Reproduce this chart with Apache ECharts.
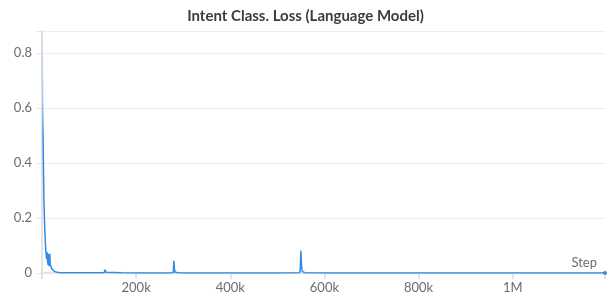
<!DOCTYPE html>
<html>
<head>
<meta charset="utf-8">
<script src="https://cdn.jsdelivr.net/npm/echarts@6/dist/echarts.min.js"></script>
<style>
    html, body { margin: 0; padding: 0; background: #fff; }
    #chart { width: 611px; height: 303px; }
</style>
</head>
<body>
<div id="chart"></div>
<script>
// 训练步数与对应的 loss
var steps = [0, 1000, 2000, 3000, 4000, 6000, 8000, 10000, 11000, 12500, 13500, 15000, 16500, 17500, 19000, 21000, 23000, 26000, 32000, 40000, 60000, 80000, 98000, 100000, 102000, 132000, 134000, 136000, 140000, 169000, 171000, 173000, 200000, 270000, 279000, 280000, 281500, 283000, 290000, 300000, 400000, 500000, 547000, 548500, 550000, 551500, 553000, 554500, 558000, 600000, 800000, 1000000, 1196000];
var lossValues = [0.88, 0.72, 0.55, 0.4, 0.27, 0.15, 0.08, 0.05, 0.075, 0.03, 0.07, 0.025, 0.07, 0.03, 0.025, 0.015, 0.01, 0.006, 0.003, 0.001, 0.0008, 0.0006, 0.0005, 0.003, 0.0005, 0.0008, 0.012, 0.003, 0.0006, 0.0005, 0.003, 0.0005, 0.0004, 0.0004, 0.001, 0.044, 0.012, 0.003, 0.001, 0.0004, 0.0003, 0.0003, 0.0005, 0.01, 0.081, 0.02, 0.006, 0.009, 0.001, 0.0003, 0.0002, 0.0002, 0.0002];
var yTicks = [0, 0.2, 0.4, 0.6, 0.8];
var xTicks = [200000, 400000, 600000, 800000, 1000000];

var myChart = echarts.init(document.getElementById('chart'))

var seriesData = steps.map(function (s, i) {
    if (i === steps.length - 1) {
        // 最后一个点显示小圆点
        return { value: [s, lossValues[i]], symbol: 'circle', symbolSize: 4 }
    }
    return { value: [s, lossValues[i]], symbol: 'none' }
})

var font = 'Lato, "Noto Sans", sans-serif'

var option = {
    animation: false,
    title: {
        text: 'Intent Class. Loss (Language Model)',
        left: 'center',
        top: 4,
        textStyle: {
            fontFamily: font,
            fontSize: 15,
            fontWeight: 'bold',
            color: '#3b3b45'
        }
    },
    grid: { left: 42, right: 6, top: 31, bottom: 30 },
    xAxis: {
        type: 'value',
        min: 0,
        max: 1196000,
        interval: 200000,
        axisLine: { lineStyle: { color: '#e4e4e6', width: 2 } },
        axisTick: { show: true, length: 6, lineStyle: { color: '#e4e4e6', width: 2 } },
        splitLine: { show: false },
        axisLabel: {
            fontFamily: font,
            fontSize: 13,
            color: '#6b6b76',
            margin: 8,
            formatter: function (v) {
                if (xTicks.indexOf(v) < 0) return ''
                if (v >= 1000000) return v / 1000000 + 'M'
                return v / 1000 + 'k'
            }
        }
    },
    yAxis: {
        type: 'value',
        min: 0,
        max: 0.88,
        interval: 0.2,
        axisLine: { show: true, lineStyle: { color: '#e4e4e6', width: 2 } },
        axisTick: { show: true, length: 5, lineStyle: { color: '#e4e4e6' } },
        splitLine: { lineStyle: { color: '#eeeeef', width: 1 } },
        axisLabel: {
            fontFamily: font,
            fontSize: 13,
            color: '#6b6b76',
            margin: 10,
            formatter: function (v) {
                return yTicks.indexOf(Math.round(v * 10) / 10) >= 0 ? String(Math.round(v * 10) / 10) : ''
            }
        }
    },
    graphic: [{
        type: 'text',
        right: 14,
        top: 256,
        style: {
            text: 'Step',
            font: '13px ' + font,
            fill: '#6b6b76'
        }
    }],
    series: [{
        type: 'line',
        data: seriesData,
        showSymbol: true,
        showAllSymbol: true,
        itemStyle: { color: '#2f8ce2' },
        lineStyle: {
            width: 1.5,
            color: new echarts.graphic.LinearGradient(0, 0, 0, 1, [
                { offset: 0, color: 'rgba(47,140,226,0.05)' },
                { offset: 0.3, color: 'rgba(47,140,226,0.35)' },
                { offset: 0.45, color: 'rgba(47,140,226,1)' },
                { offset: 1, color: 'rgba(47,140,226,1)' }
            ])
        }
    }]
}
myChart.setOption(option)
</script>
</body>
</html>
